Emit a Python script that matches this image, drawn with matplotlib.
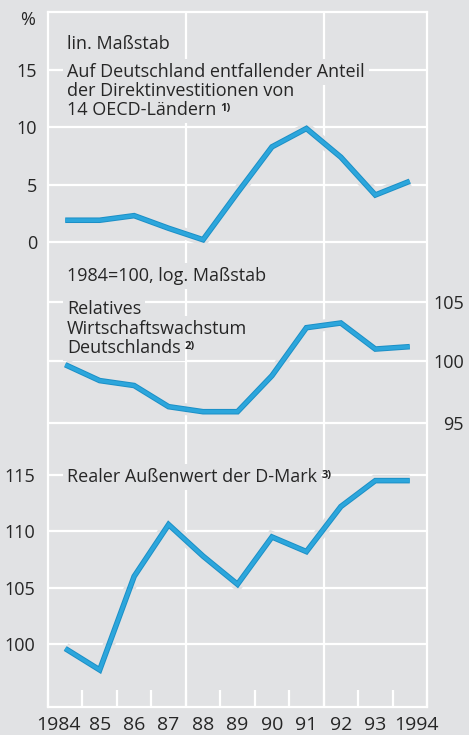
import matplotlib
matplotlib.use('Agg')
import matplotlib.pyplot as plt
import matplotlib.patheffects as pe
import matplotlib.transforms as mtransforms
from matplotlib.ticker import NullLocator

# ---------------- data ----------------
years = [1984, 1985, 1986, 1987, 1988, 1989, 1990, 1991, 1992, 1993, 1994]
year_labels = ['1984', '85', '86', '87', '88', '89', '90', '91', '92', '93', '1994']
direct_share = [1.9, 1.9, 2.3, 1.2, 0.2, 4.3, 8.3, 9.9, 7.4, 4.1, 5.3]          # %
growth_index = [99.7, 98.4, 98.0, 96.3, 95.9, 95.9, 98.8, 102.8, 103.2, 101.0, 101.2]  # 1984=100, log
dmark_value = [99.6, 97.7, 106.0, 110.6, 107.8, 105.3, 109.5, 108.2, 112.2, 114.5, 114.5]
top_ticks = [0, 5, 10, 15]
mid_ticks = [95, 100, 105]
bot_ticks = [100, 105, 110, 115]

# ---------------- style ----------------
BG = '#e1e2e4'
TXT = '#262626'
BLUE = '#2ca6dc'
BLUE_DARK = '#1b8fc6'
FS = 13
FONT = ['Open Sans', 'DejaVu Sans']
plt.rcParams['font.family'] = FONT

W, H = 469, 735
fig = plt.figure(figsize=(W / 100, H / 100), dpi=100, facecolor=BG)

L, R, T, B = 48, 427, 12, 707
rect = [L / W, (H - B) / H, (R - L) / W, (B - T) / H]

def fy(y):
    return 1 - y / H

def fx(x):
    return x / W

# background / frame axes
bg = fig.add_axes(rect, zorder=0)
bg.set_facecolor(BG)
bg.set_xlim(1983.5, 1994.5)
bg.set_ylim(0, 1)
for s in bg.spines.values():
    s.set_color('white')
    s.set_linewidth(1.6)
bg.set_yticks([])
bg.set_xticks(years)
bg.set_xticklabels(year_labels, fontsize=14, color=TXT)
bg.set_xticks([y + 0.5 for y in range(1983, 1995)], minor=True)
bg.tick_params(axis='x', which='major', length=0, pad=6.5)
bg.tick_params(axis='x', which='minor', direction='in', length=12, width=1.6, color='white')
labs = bg.get_xticklabels()
labs[0].set_transform(labs[0].get_transform() + mtransforms.ScaledTranslation(-7 / 100, 0, fig.dpi_scale_trans))
labs[-1].set_transform(labs[-1].get_transform() + mtransforms.ScaledTranslation(7 / 100, 0, fig.dpi_scale_trans))
for xv in (1987.5, 1991.5):
    bg.axvline(xv, color='white', lw=1.6)

halo = [pe.Stroke(linewidth=8.5, foreground=BG),
        pe.Stroke(linewidth=4.0, foreground=BLUE_DARK),
        pe.Normal()]

def panel(z):
    ax = fig.add_axes(rect, zorder=z)
    ax.set_facecolor('none')
    for s in ax.spines.values():
        s.set_visible(False)
    ax.set_xlim(1983.5, 1994.5)
    ax.tick_params(axis='x', bottom=False, labelbottom=False)
    ax.tick_params(axis='y', length=0, labelsize=FS, labelcolor=TXT)
    return ax

# top panel (linear %)
ax1 = panel(1)
ax1.set_ylim(-40.55, 20.06)
for v in top_ticks:
    ax1.axhline(v, color='white', lw=1.6, zorder=1)
ax1.set_yticks(top_ticks)
ax1.set_yticklabels([str(v) for v in top_ticks])
ax1.tick_params(axis='y', pad=8)
ax1.plot(years, direct_share, color=BLUE, lw=2.6, zorder=3, clip_on=False,
         solid_joinstyle='miter', solid_capstyle='butt', path_effects=halo)

# middle panel (log)
ax2 = panel(2)
ax2.set_yscale('log')
ax2.set_ylim(75.12, 133.47)
for v in mid_ticks:
    ax2.axhline(v, color='white', lw=1.6, zorder=1)
ax2.set_yticks(mid_ticks)
ax2.set_yticklabels([str(v) for v in mid_ticks])
ax2.yaxis.set_minor_locator(NullLocator())
ax2.tick_params(axis='y', left=False, labelleft=False, right=False, labelright=True, pad=26.5)
for t in ax2.get_yticklabels():
    t.set_horizontalalignment('right')
ax2.plot(years, growth_index, color=BLUE, lw=2.6, zorder=3, clip_on=False,
         solid_joinstyle='miter', solid_capstyle='butt', path_effects=halo)

# bottom panel (linear)
ax3 = panel(3)
ax3.set_ylim(94.41, 156.09)
for v in bot_ticks:
    ax3.axhline(v, color='white', lw=1.6, zorder=1)
ax3.set_yticks(bot_ticks)
ax3.set_yticklabels([str(v) for v in bot_ticks])
ax3.tick_params(axis='y', pad=9)
ax3.plot(years, dmark_value, color=BLUE, lw=2.6, zorder=3, clip_on=False,
         solid_joinstyle='miter', solid_capstyle='butt', path_effects=halo)

# ---------------- texts ----------------
box = dict(boxstyle='square,pad=0.22', fc=BG, ec='none')
top_ax = fig.add_axes(rect, zorder=10)
top_ax.set_axis_off()

def label(x, y, s, boxed=True):
    return top_ax.text(fx(x), fy(y), s, transform=fig.transFigure, fontsize=FS, color=TXT,
                       va='baseline', ha='left', bbox=box if boxed else None, zorder=10)

def sup(t, s):
    top_ax.annotate(s, xy=(1, 1), xycoords=t, xytext=(3, -1.5), textcoords='offset points',
                    va='top', ha='left', fontsize=8, fontweight='bold', color=TXT, zorder=11)

fig.text(fx(35), fy(25), '%', fontsize=FS, color=TXT, ha='right', va='baseline')
label(67, 49, 'lin. Maßstab')
label(67, 77, 'Auf Deutschland entfallender Anteil')
label(67, 96, 'der Direktinvestitionen von')
t = label(67, 115, '14 OECD-Ländern')
sup(t, '1)')
label(67, 281, '1984=100, log. Maßstab')
label(67, 314, 'Relatives')
label(67, 334, 'Wirtschaftswachstum')
t = label(67, 353, 'Deutschlands')
sup(t, '2)')
t = label(67, 482, 'Realer Außenwert der D-Mark')
sup(t, '3)')

fig.savefig('out.png', dpi=100, facecolor=BG)
